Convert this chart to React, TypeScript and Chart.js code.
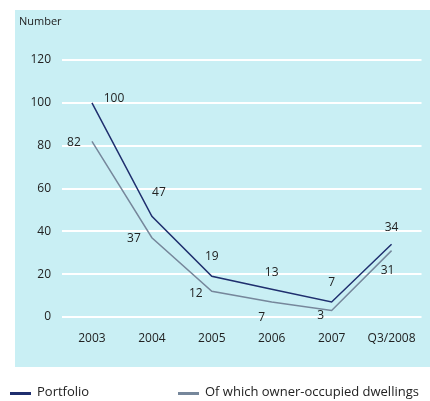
import React, { useEffect, useRef } from "react";
import { Chart, registerables } from "chart.js";

Chart.register(...registerables);

const categories = ["2003", "2004", "2005", "2006", "2007", "Q3/2008"];
const portfolio = [100, 47, 19, 13, 7, 34];
const ownerOccupied = [82, 37, 12, 7, 3, 31];
const yTicks = [0, 20, 40, 60, 80, 100, 120];
const seriesNames = ["Portfolio", "Of which owner-occupied dwellings"];

const FONT = "'Open Sans', sans-serif";
const NAVY = "#1f2f6e";
const GREY = "#76879b";
const TEXT = "#222222";

const labelOffsets: [number, number][][] = [
  [[22, -4], [7, -24], [0, -20], [0, -17], [0, -19], [0, -17]],
  [[-18, 1], [-18, 1], [-16, 2], [-10, 16], [-11, 5], [-4, 20]],
];

const panelPlugin = {
  id: "panel",
  beforeDraw(chart: any) {
    const ctx = chart.ctx;
    ctx.save();
    ctx.fillStyle = "#ffffff";
    ctx.fillRect(0, 0, chart.width, chart.height);
    ctx.fillStyle = "#c9eff4";
    ctx.fillRect(15, 10, 415, 357);
    ctx.fillStyle = TEXT;
    ctx.font = `11px ${FONT}`;
    ctx.textAlign = "left";
    ctx.textBaseline = "middle";
    ctx.fillText("Number", 19, 22);
    // legend
    const items = [
      { x: 10, color: NAVY, text: seriesNames[0] },
      { x: 178, color: GREY, text: seriesNames[1] },
    ];
    ctx.font = `13px ${FONT}`;
    items.forEach((it) => {
      ctx.fillStyle = it.color;
      ctx.fillRect(it.x, 392, 21, 3);
      ctx.fillStyle = TEXT;
      ctx.fillText(it.text, it.x + 27, 392.5);
    });
    ctx.restore();
  },
};

const labelPlugin = {
  id: "pointLabels",
  afterDatasetsDraw(chart: any) {
    const ctx = chart.ctx;
    ctx.save();
    ctx.font = `12px ${FONT}`;
    ctx.fillStyle = TEXT;
    ctx.textAlign = "center";
    ctx.textBaseline = "middle";
    chart.data.datasets.forEach((ds: any, di: number) => {
      const meta = chart.getDatasetMeta(di);
      meta.data.forEach((pt: any, i: number) => {
        const off = labelOffsets[di][i];
        ctx.fillText(String(ds.data[i]), pt.x + off[0], pt.y + off[1]);
      });
    });
    ctx.restore();
  },
};

export default function App() {
  const ref = useRef<HTMLCanvasElement>(null);
  useEffect(() => {
    document.body.style.margin = "0";
    const chart = new Chart(ref.current!, {
      type: "line",
      data: {
        labels: categories,
        datasets: [
          {
            label: seriesNames[0],
            data: portfolio,
            borderColor: NAVY,
            borderWidth: 1.5,
            pointRadius: 0,
            tension: 0,
          },
          {
            label: seriesNames[1],
            data: ownerOccupied,
            borderColor: GREY,
            borderWidth: 1.5,
            pointRadius: 0,
            tension: 0,
          },
        ],
      },
      options: {
        animation: false,
        responsive: false,
        layout: { padding: { left: 0, right: 5, top: 60, bottom: 0 } },
        plugins: { legend: { display: false }, tooltip: { enabled: false } },
        scales: {
          x: {
            offset: true,
            grid: { display: false, drawTicks: false },
            border: { display: false },
            ticks: { color: TEXT, font: { family: FONT, size: 12 }, padding: 14, maxRotation: 0 },
            afterFit: (s: any) => {
              s.height = 84;
            },
          },
          y: {
            min: 0,
            max: 120,
            afterBuildTicks: (s: any) => {
              s.ticks = yTicks.map((v) => ({ value: v }));
            },
            grid: { color: "#ffffff", lineWidth: 2, drawTicks: false },
            border: { display: false },
            ticks: { color: TEXT, font: { family: FONT, size: 12 }, padding: 11 },
            afterFit: (s: any) => {
              s.width = 62;
            },
          },
        },
      },
      plugins: [panelPlugin, labelPlugin],
    });
    return () => chart.destroy();
  }, []);
  return (
    <div style={{ width: 430, height: 401 }}>
      <canvas ref={ref} width={430} height={401} style={{ display: "block" }} />
    </div>
  );
}
